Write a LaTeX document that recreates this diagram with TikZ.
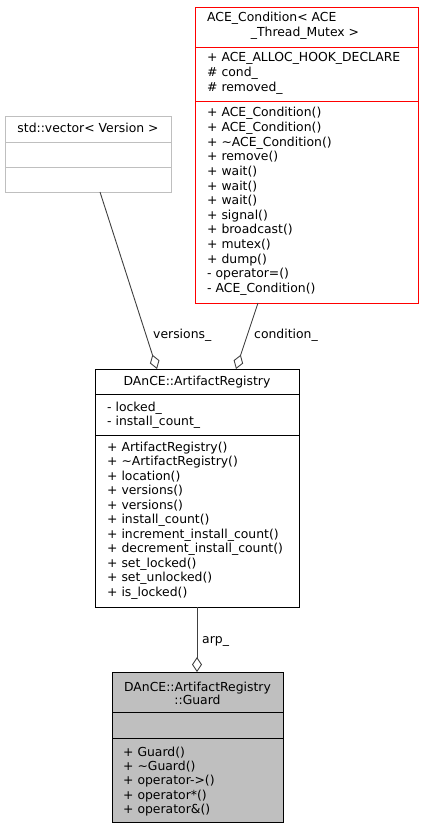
\documentclass[tikz,border=0pt]{standalone}
\usepackage{fontspec}
\setmainfont{DejaVu Sans}
\usetikzlibrary{arrows.meta}
\definecolor{edgegray}{HTML}{404040}
\definecolor{boxgray}{HTML}{BFBFBF}
\definecolor{boxred}{HTML}{FF0000}
\begin{document}
\begin{tikzpicture}[x=1pt,y=-1pt,
  box/.style={draw=black, line width=0.9pt, inner sep=0pt, outer sep=0pt, anchor=north west},
  txt/.style={anchor=base west, inner sep=0pt, font=\fontsize{12.4}{14}\selectfont},
  ctxt/.style={anchor=base, inner sep=0pt, font=\fontsize{12.4}{14}\selectfont},
  agg/.style={draw=edgegray, line width=0.9pt, -{Diamond[open,length=15pt,width=10pt,line width=0.9pt]}},
  lbl/.style={anchor=base west, inner sep=0pt, font=\fontsize{12.4}{14}\selectfont}
]
\useasboundingbox (0,0) rectangle (423,829);

% ---------- ACE_Condition box ----------
\node[box, draw=boxred, minimum width=223pt, minimum height=296pt] (R) at (195,7) {};
\draw[boxred, line width=0.9pt] (195,47) -- (418,47);
\draw[boxred, line width=0.9pt] (195,101) -- (418,101);
\node[txt] (rt1) at (207,22) {ACE\_Condition< ACE};
\node[ctxt] (rt2) at (305,37) {\_Thread\_Mutex >};
\foreach \t [count=\i from 0] in {+ ACE\_ALLOC\_HOOK\_DECLARE, \# cond\_, \# removed\_}
  \node[txt] (ra\i) at (207,62+14.8*\i) {\t};
\foreach \t [count=\i from 0] in {+ ACE\_Condition(), + ACE\_Condition(), + \textasciitilde ACE\_Condition(), + remove(), + wait(), + wait(), + wait(), + signal(), + broadcast(), + mutex(), + dump(), - operator=(), - ACE\_Condition()}
  \node[txt] (rm\i) at (207,117+14.6*\i) {\t};

% ---------- std::vector box ----------
\node[box, draw=boxgray, minimum width=166pt, minimum height=76pt] (V) at (5,116) {};
\draw[boxgray, line width=0.9pt] (5,142) -- (171,142);
\draw[boxgray, line width=0.9pt] (5,167) -- (171,167);
\node[ctxt] (vt) at (88,132.5) {std::vector< Version >};

% ---------- ArtifactRegistry box ----------
\node[box, minimum width=204pt, minimum height=238pt] (M) at (95,369) {};
\draw[line width=0.9pt] (95,394) -- (299,394);
\draw[line width=0.9pt] (95,435) -- (299,435);
\node[ctxt] (mt) at (197,385.5) {DAnCE::ArtifactRegistry};
\foreach \t [count=\i from 0] in {- locked\_, - install\_count\_}
  \node[txt] (ma\i) at (107,411+14.3*\i) {\t};
\foreach \t [count=\i from 0] in {+ ArtifactRegistry(), + \textasciitilde ArtifactRegistry(), + location(), + versions(), + versions(), + install\_count(), + increment\_install\_count(), + decrement\_install\_count(), + set\_locked(), + set\_unlocked(), + is\_locked()}
  \node[txt] (mm\i) at (107,451+14.5*\i) {\t};

% ---------- Guard box ----------
\node[box, fill=boxgray, minimum width=171pt, minimum height=150pt] (G) at (112,672) {};
\draw[line width=0.9pt] (112,712) -- (283,712);
\draw[line width=0.9pt] (112,738) -- (283,738);
\node[ctxt] (gt1) at (197.5,691) {DAnCE::ArtifactRegistry};
\node[ctxt] (gt2) at (197.5,704.5) {::Guard};
\foreach \t [count=\i from 0] in {+ Guard(), + \textasciitilde Guard(), + operator->(), + operator*(), + operator\&()}
  \node[txt] (gm\i) at (123,756+14.4*\i) {\t};

% ---------- connectors ----------
\coordinate (Vb) at (100,192);
\coordinate (Mv) at (157,369);
\coordinate (Rb) at (258,303);
\coordinate (Mc) at (236,369);
\coordinate (Mb) at (197,607);
\coordinate (Gt) at (197,672);
\draw[agg] (Vb) -- (Mv);
\draw[agg] (Rb) -- (Mc);
\draw[agg] (Mb) -- (Gt);
\node[lbl] (lv) at (153,338.5) {versions\_};
\node[lbl] (lc) at (254,338.5) {condition\_};
\node[lbl] (la) at (202,643) {arp\_};
\end{tikzpicture}
\end{document}
